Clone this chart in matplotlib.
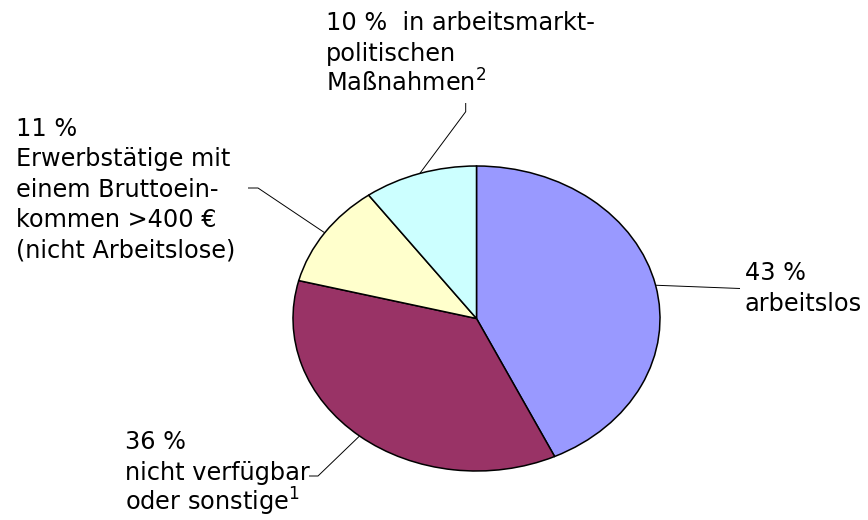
import numpy as np
import matplotlib
matplotlib.use("Agg")
import matplotlib.pyplot as plt

plt.rcParams["mathtext.fontset"] = "dejavusans"

# ---- data ----
categories = ["arbeitslos", "nicht verfügbar oder sonstige", "Erwerbstätige >400 €", "arbeitsmarktpolitische Maßnahmen"]
shares = [43, 36, 11, 10]
labels = [
    "43 %\narbeitslos",
    "36 %\nnicht verfügbar\noder sonstige$^{1}$",
    "11 %\nErwerbstätige mit\neinem Bruttoein-\nkommen >400 €\n(nicht Arbeitslose)",
    "10 %  in arbeitsmarkt-\npolitischen\nMaßnahmen$^{2}$",
]
colors = ["#9999FF", "#993366", "#FFFFCC", "#CCFFFF"]

# ---- layout (pixels, image coordinates, y down) ----
W, H = 868, 520
CX, CY, RX, RY = 476.5, 318.5, 183.5, 152.5
text_pos = [(745, 280), (125, 449), (16, 135.5), (326, 30)]   # left x, first baseline
line_step = 30.6
elbows = [
    [(740, 288.5)],
    [(318, 476), (309, 476)],
    [(258, 188), (248, 188)],
    [(465.7, 111.7), (465.7, 103)],
]

fig = plt.figure(figsize=(W / 100, H / 100), dpi=100)
ax = fig.add_axes([0, 0, 1, 1])

wedges, _ = ax.pie(shares, colors=colors, startangle=90, counterclock=False,
                   radius=1.0, center=(0, 0),
                   wedgeprops=dict(edgecolor="black", linewidth=1.1))
ax.set_aspect("auto")
ax.set_xlim(-CX / RX, (W - CX) / RX)
ax.set_ylim(-(H - CY) / RY, CY / RY)
ax.axis("off")


def P(px, py):
    return (px - CX) / RX, (CY - py) / RY


font = dict(family=["DejaVu Sans"], fontsize=17.3, color="black")

for w, lab, (tx, ty), elb in zip(wedges, labels, text_pos, elbows):
    mid = np.deg2rad((w.theta1 + w.theta2) / 2)
    start = (np.cos(mid), np.sin(mid))
    pts = [start] + [P(*e) for e in elb]
    xs, ys = zip(*pts)
    ax.plot(xs, ys, color="black", linewidth=0.7, solid_capstyle="butt")
    for i, line in enumerate(lab.split("\n")):
        x, y = P(tx, ty + i * line_step)
        ax.text(x, y, line, ha="left", va="baseline", **font)

fig.savefig("out.png", dpi=100, facecolor="white")
